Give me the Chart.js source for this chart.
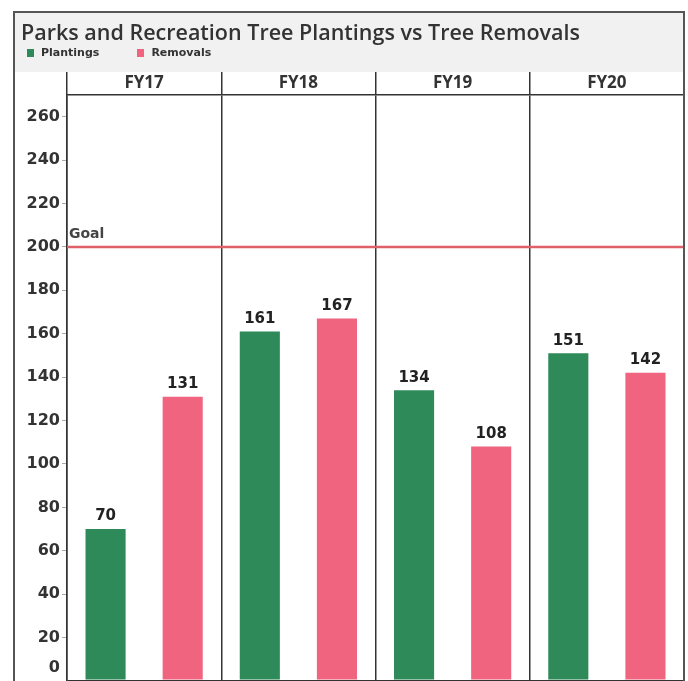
<!DOCTYPE html>
<html>
<head>
<meta charset="utf-8">
<script src="https://cdn.jsdelivr.net/npm/chart.js@4.4.0/dist/chart.umd.min.js"></script>
<style>
  html, body { margin: 0; padding: 0; background: #fff; }
  #wrap { position: relative; width: 688px; height: 681px; overflow: hidden; background: #fff; }
  #band { position: absolute; left: 14px; top: 12px; width: 670px; height: 60px; background: #f1f1f1; }
  #c { position: absolute; left: 0; top: 0; }
  #frame { position: absolute; left: 13px; top: 11px; width: 672px; height: 720px; border: 2px solid #555; border-bottom: none; box-sizing: border-box; pointer-events: none; }
  #title { position: absolute; left: 21px; top: 17px; font-family: "Open Sans", sans-serif; font-weight: 600; font-size: 21.5px; color: #333; white-space: nowrap; line-height: 30px; }
  #legend { position: absolute; left: 27px; top: 46px; font-family: "DejaVu Sans", sans-serif; font-weight: bold; font-size: 11px; color: #333; white-space: nowrap; line-height: 14px; }
  .item { display: inline-block; }
  .sw { display: inline-block; width: 7px; height: 8px; margin-right: 7px; vertical-align: -1px; }
</style>
</head>
<body>
<div id="wrap">
  <div id="band"></div>
  <canvas id="c" width="688" height="681"></canvas>
  <div id="frame"></div>
  <div id="title">Parks and Recreation Tree Plantings vs Tree Removals</div>
  <div id="legend"></div>
</div>
<script>
const categories = ['FY17', 'FY18', 'FY19', 'FY20'];
const seriesNames = ['Plantings', 'Removals'];
const plantings = [70, 161, 134, 151];
const removals = [131, 167, 108, 142];
const goalValue = 200;
const goalLabel = 'Goal';
const yMin = 0;
const yMax = 270;
const yStep = 20;

const colors = ['#2f8a59', '#f0647f'];

// HTML legend
const legendEl = document.getElementById('legend');
seriesNames.forEach((name, i) => {
  const it = document.createElement('span');
  it.className = 'item';
  it.style.marginRight = i === 0 ? '38px' : '0';
  const sw = document.createElement('span');
  sw.className = 'sw';
  sw.style.background = colors[i];
  it.appendChild(sw);
  it.appendChild(document.createTextNode(name));
  legendEl.appendChild(it);
});

const goalPlugin = {
  id: 'goalLine',
  beforeDatasetsDraw(chart) {
    const {ctx, chartArea, scales} = chart;
    const y = scales.y.getPixelForValue(goalValue);
    ctx.save();
    ctx.strokeStyle = '#e0606a';
    ctx.lineWidth = 2.5;
    ctx.beginPath();
    ctx.moveTo(chartArea.left, y);
    ctx.lineTo(chartArea.right, y);
    ctx.stroke();
    ctx.fillStyle = '#444';
    ctx.font = 'bold 14px "DejaVu Sans"';
    ctx.textAlign = 'left';
    ctx.textBaseline = 'bottom';
    ctx.fillText(goalLabel, chartArea.left + 2, y - 6);
    ctx.restore();
  }
};

const valueLabels = {
  id: 'valueLabels',
  afterDatasetsDraw(chart) {
    const {ctx} = chart;
    ctx.save();
    ctx.fillStyle = '#222';
    ctx.font = 'bold 15px "DejaVu Sans"';
    ctx.textAlign = 'center';
    ctx.textBaseline = 'bottom';
    chart.data.datasets.forEach((ds, di) => {
      const meta = chart.getDatasetMeta(di);
      meta.data.forEach((bar, i) => {
        ctx.fillText(String(ds.data[i]), bar.x, bar.y - 5);
      });
    });
    ctx.restore();
  }
};

new Chart(document.getElementById('c'), {
  type: 'bar',
  data: {
    labels: categories,
    datasets: [
      { label: seriesNames[0], data: plantings, backgroundColor: colors[0], borderWidth: 0 },
      { label: seriesNames[1], data: removals, backgroundColor: colors[1], borderWidth: 0 }
    ]
  },
  options: {
    responsive: false,
    animation: false,
    devicePixelRatio: 1,
    layout: { padding: { left: 14, right: 4, top: 72, bottom: 0 } },
    plugins: { legend: { display: false }, title: { display: false }, tooltip: { enabled: false } },
    datasets: { bar: { categoryPercentage: 1.0, barPercentage: 0.52 } },
    scales: {
      x: {
        position: 'top',
        offset: true,
        grid: { display: true, offset: true, color: '#333', lineWidth: 1.5, drawOnChartArea: true, drawTicks: true, tickLength: 23, tickColor: '#333', tickWidth: 1.5 },
        border: { display: true, color: '#333', width: 1.5 },
        ticks: { color: '#333', padding: -21, font: { family: '"Open Sans"', weight: 'bold', size: 17 } },
        afterFit(scale) { scale.height = 23; }
      },
      y: {
        min: yMin,
        max: yMax,
        grid: {
          drawOnChartArea: true,
          drawTicks: true,
          tickLength: 5,
          color: (c) => (c.tick && c.tick.value === 0 ? '#333' : 'rgba(0,0,0,0)'),
          lineWidth: (c) => (c.tick && c.tick.value === 0 ? 3 : 1),
          tickColor: '#aaa',
          tickWidth: 1
        },
        border: { display: true, color: '#333', width: 1.5 },
        ticks: {
          stepSize: yStep,
          includeBounds: false,
          autoSkip: false,
          padding: 2,
          color: '#333',
          font: (c) => ({ family: '"DejaVu Sans"', weight: 'bold', size: 16, lineHeight: (c.tick && c.tick.value === 0) ? 1.625 : 1.2 }),
          callback: (v) => (v === 0 ? ['0', ''] : String(v))
        },
        afterFit(scale) { scale.width = 53; scale.paddingTop = 0; scale.paddingBottom = 0; }
      }
    }
  },
  plugins: [goalPlugin, valueLabels]
});
</script>
</body>
</html>
